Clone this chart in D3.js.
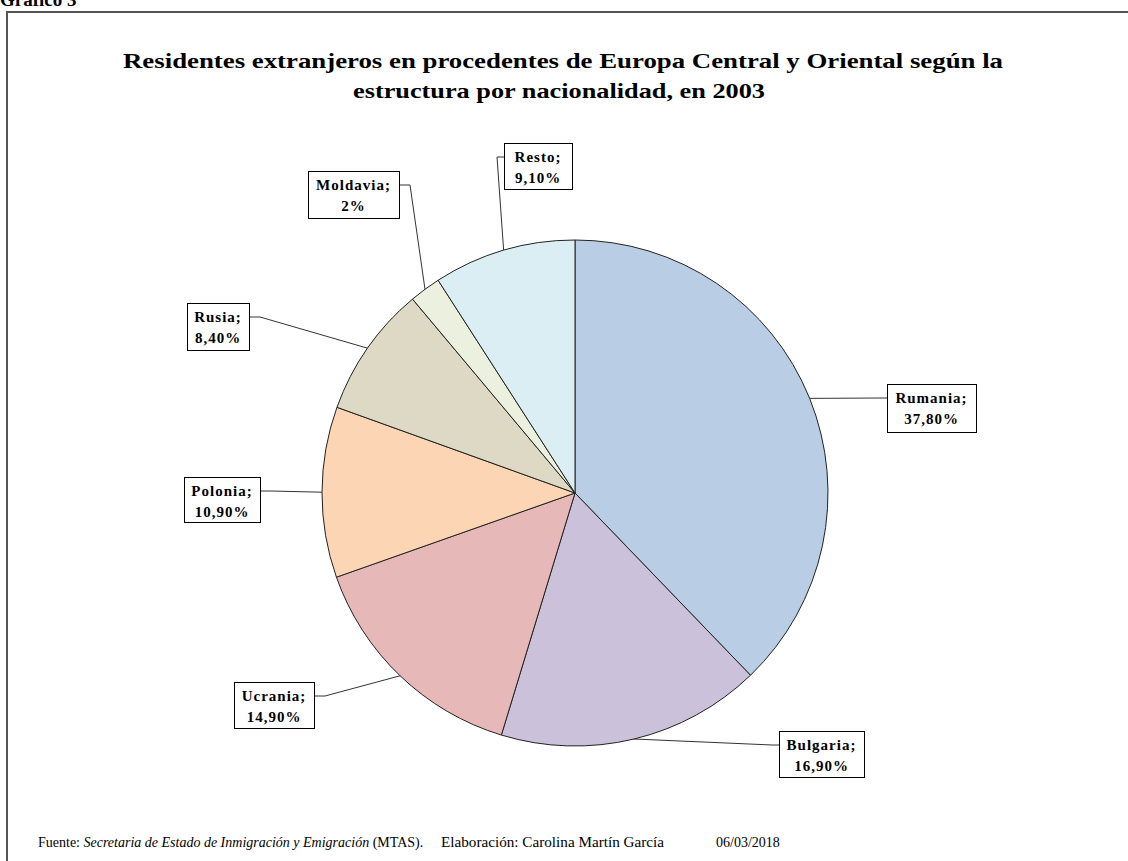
<!DOCTYPE html>
<html>
<head>
<meta charset="utf-8">
<script src="https://cdn.jsdelivr.net/npm/d3@7"></script>
<style>
  body { margin: 0; background: #fff; }
</style>
</head>
<body>
<div id="chart"></div>
<script>
// data
var countries = ["Rumania", "Bulgaria", "Ucrania", "Polonia", "Rusia", "Moldavia", "Resto"];
var shares = [37.8, 16.9, 14.9, 10.9, 8.4, 2, 9.1];
var shareLabels = ["37,80%", "16,90%", "14,90%", "10,90%", "8,40%", "2%", "9,10%"];
var sliceColors = ["#b9cde5", "#ccc1da", "#e6b9b8", "#fcd5b5", "#ddd9c4", "#ebf1de", "#dbeef4"];

// label box layout: [x, y, w, h, side]  side = where the leader enters the box
var boxes = [
  [887, 384, 89, 48, "left"],
  [779, 731, 85, 46, "left"],
  [234, 682, 80, 46, "right"],
  [184, 477, 76, 45, "right"],
  [187, 303, 62, 47, "right"],
  [308, 171, 91, 47, "right"],
  [504, 143, 68, 46, "left"]
];

var width = 1128, height = 861;
var cx = 575, cy = 493, radius = 253;

var svg = d3.select("#chart")
  .append("svg")
  .attr("width", width)
  .attr("height", height)
  .attr("font-family", "'Liberation Serif', 'Times New Roman', 'DejaVu Serif', serif");

// outer frame (only top and left edges fall in view)
svg.append("path")
  .attr("d", "M7,870 L7,12 L1140,12")
  .attr("fill", "none")
  .attr("stroke", "#555")
  .attr("stroke-width", 2);

svg.append("text")
  .attr("x", 0).attr("y", 6)
  .attr("font-size", 19).attr("font-weight", "bold")
  .text("Gráfico 3");

// title
var title = svg.append("g").attr("font-weight", "bold").attr("font-size", 21).attr("text-anchor", "middle");
title.append("text").attr("x", 563).attr("y", 68)
  .attr("textLength", 880).attr("lengthAdjust", "spacingAndGlyphs")
  .text("Residentes extranjeros en procedentes de Europa Central y Oriental según la");
title.append("text").attr("x", 559).attr("y", 98)
  .attr("textLength", 412).attr("lengthAdjust", "spacingAndGlyphs")
  .text("estructura por nacionalidad, en 2003");

// pie
var pie = d3.pie().sort(null).value(function(d) { return d; });
var arcs = pie(shares);
var arc = d3.arc().innerRadius(0).outerRadius(radius);

var g = svg.append("g").attr("transform", "translate(" + cx + "," + cy + ")");
g.selectAll("path")
  .data(arcs)
  .enter()
  .append("path")
    .attr("d", arc)
    .attr("fill", function(d, i) { return sliceColors[i]; })
    .attr("stroke", "#222")
    .attr("stroke-width", 1);

// leader lines and label boxes
arcs.forEach(function(d, i) {
  var mid = (d.startAngle + d.endAngle) / 2;
  var px = cx + radius * Math.sin(mid), py = cy - radius * Math.cos(mid);
  var b = boxes[i];
  var ey = b[1] + 14;
  var ex = b[4] == "left" ? b[0] : b[0] + b[2];
  var elbow = b[4] == "left" ? ex - 7 : ex + 11;
  svg.append("polyline")
    .attr("points", [[px, py], [elbow, ey], [ex, ey]].join(" "))
    .attr("fill", "none")
    .attr("stroke", "#333")
    .attr("stroke-width", 1);

  svg.append("rect")
    .attr("x", b[0] + 0.5).attr("y", b[1] + 0.5)
    .attr("width", b[2]).attr("height", b[3])
    .attr("fill", "#fff")
    .attr("stroke", "#000");

  var t = svg.append("text")
    .attr("text-anchor", "middle")
    .attr("font-weight", "bold")
    .attr("font-size", 15)
    .attr("letter-spacing", 1);
  t.append("tspan").attr("x", b[0] + b[2] / 2).attr("y", b[1] + 19).text(countries[i] + ";");
  t.append("tspan").attr("x", b[0] + b[2] / 2).attr("y", b[1] + 40).text(shareLabels[i]);
});

// footer
var foot = svg.append("text").attr("x", 38).attr("y", 847).attr("font-size", 14);
foot.append("tspan").text("Fuente: ");
foot.append("tspan").attr("font-style", "italic").text("Secretaria de Estado de Inmigración y Emigración");
foot.append("tspan").text(" (MTAS).");
svg.append("text").attr("x", 441).attr("y", 847).attr("font-size", 14)
  .attr("textLength", 223).attr("lengthAdjust", "spacingAndGlyphs")
  .text("Elaboración: Carolina Martín García");
svg.append("text").attr("x", 716).attr("y", 847).attr("font-size", 14).text("06/03/2018");
</script>
</body>
</html>
